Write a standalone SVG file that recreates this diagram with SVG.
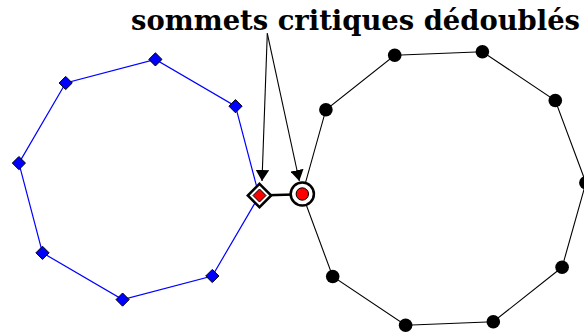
<svg xmlns="http://www.w3.org/2000/svg" width="584" height="335" viewBox="0 0 584 335">
<style>
.blue-edge{fill:none;stroke:#0000ff;stroke-width:1.2}
.black-edge{fill:none;stroke:#000;stroke-width:1.1}
.link{stroke:#000;stroke-width:2.5}
.arrow{stroke:#000;stroke-width:1.1;fill:none}
.bdia{fill:#0000ff;stroke:#000;stroke-width:1}
.bdot{fill:#000}
.label{font-family:"DejaVu Serif","Liberation Serif",serif;font-weight:bold;font-size:27px;fill:#000}
</style>
<defs>
<marker id="ah" viewBox="0 0 11 13.4" refX="11" refY="6.7" markerWidth="11" markerHeight="13.4" markerUnits="userSpaceOnUse" orient="auto">
<path d="M0,0 L11,6.7 L0,13.4 z" fill="#000"/>
</marker>
<path id="dia" d="M0,-6.6 L6.6,0 L0,6.6 L-6.6,0 z"/>
</defs>
<rect width="584" height="335" fill="#fff"/>
<g id="connectors">
<polygon class="blue-edge" points="259.1,195.9 235.5,106.2 155.4,59.4 65.7,83.0 18.9,163.1 42.5,252.8 122.6,299.6 212.3,276.0"/>
<polygon class="black-edge" points="562.1,267.3 493.3,321.7 405.6,325.2 332.7,276.5 302.3,194.2 325.9,109.7 394.7,55.3 482.4,51.8 555.3,100.5 585.9,182.8"/>
<line class="link" x1="259.1" y1="195.5" x2="302.3" y2="194.2"/>
<line class="arrow" x1="267.3" y1="33.3" x2="262" y2="181" marker-end="url(#ah)"/>
<line class="arrow" x1="267.3" y1="33.3" x2="299.3" y2="181" marker-end="url(#ah)"/>
</g>
<g id="a1"><use href="#dia" class="bdia" x="235.5" y="106.2"/></g>
<g id="a2"><use href="#dia" class="bdia" x="155.4" y="59.4"/></g>
<g id="a3"><use href="#dia" class="bdia" x="65.7" y="83.0"/></g>
<g id="a4"><use href="#dia" class="bdia" x="18.9" y="163.1"/></g>
<g id="a5"><use href="#dia" class="bdia" x="42.5" y="252.8"/></g>
<g id="a6"><use href="#dia" class="bdia" x="122.6" y="299.6"/></g>
<g id="a7"><use href="#dia" class="bdia" x="212.3" y="276.0"/></g>
<g id="a0-critical">
<path d="M259.5,183.8 L271.2,195.5 L259.5,207.2 L247.8,195.5 z" fill="#fff" stroke="#000" stroke-width="2.5"/>
<path d="M259.5,189 L266,195.5 L259.5,202 L253,195.5 z" fill="#ff0000" stroke="#000" stroke-width="1"/>
</g>
<g id="b0"><circle class="bdot" cx="562.1" cy="267.3" r="6.8"/></g>
<g id="b1"><circle class="bdot" cx="493.3" cy="321.7" r="6.8"/></g>
<g id="b2"><circle class="bdot" cx="405.6" cy="325.2" r="6.8"/></g>
<g id="b3"><circle class="bdot" cx="332.7" cy="276.5" r="6.8"/></g>
<g id="b5"><circle class="bdot" cx="325.9" cy="109.7" r="6.8"/></g>
<g id="b6"><circle class="bdot" cx="394.7" cy="55.3" r="6.8"/></g>
<g id="b7"><circle class="bdot" cx="482.4" cy="51.8" r="6.8"/></g>
<g id="b8"><circle class="bdot" cx="555.3" cy="100.5" r="6.8"/></g>
<g id="b9"><circle class="bdot" cx="585.9" cy="182.8" r="6.8"/></g>
<g id="b4-critical">
<circle cx="302.3" cy="194" r="11.6" fill="#fff" stroke="#000" stroke-width="2.5"/>
<circle cx="302.3" cy="194" r="6.2" fill="#ff0000" stroke="#000" stroke-width="1"/>
</g>
<g id="label">
<text class="label" x="131" y="30" textLength="449" lengthAdjust="spacingAndGlyphs">sommets critiques dédoublés</text>
</g>
</svg>
